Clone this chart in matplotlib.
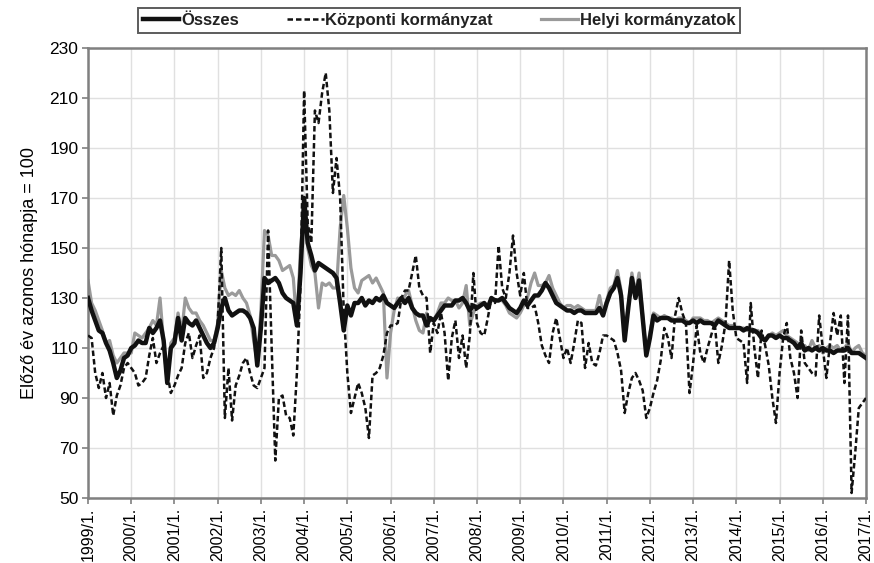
import matplotlib
matplotlib.use("Agg")
import matplotlib.pyplot as plt
import numpy as np

plt.rcParams['font.family'] = ['Liberation Sans', 'DejaVu Sans']

years = list(range(1999, 2018))
tick_labels = [f"{y}/1." for y in years]

# Monthly values, 1999/1 ... 2017/1
osszes = [
    130, 125, 121, 117, 116, 112, 109, 104, 98, 101, 106, 107,   # 1999
    110, 111, 113, 112, 112, 118, 116, 118, 121, 113, 96, 110,   # 2000
    112, 122, 113, 122, 120, 119, 121, 118, 115, 112, 110, 112,  # 2001
    118, 126, 130, 125, 123, 124, 125, 125, 124, 122, 118, 103,  # 2002
    118, 138, 136, 137, 138, 136, 132, 130, 129, 128, 119, 140,  # 2003
    170, 152, 147, 141, 144, 143, 142, 141, 140, 138, 128, 117,  # 2004
    127, 123, 128, 128, 130, 127, 129, 128, 130, 129, 131, 128,  # 2005
    127, 126, 128, 130, 128, 130, 126, 124, 123, 123, 119, 122,  # 2006
    121, 123, 125, 127, 127, 127, 129, 129, 130, 128, 125, 127,  # 2007
    126, 127, 128, 126, 130, 129, 129, 130, 128, 126, 125, 124,  # 2008
    126, 129, 127, 129, 131, 131, 133, 136, 134, 131, 128, 127,  # 2009
    126, 125, 125, 124, 125, 125, 124, 124, 124, 124, 126, 123,  # 2010
    128, 132, 134, 138, 131, 113, 126, 138, 130, 137, 122, 107,  # 2011
    114, 123, 121, 122, 122, 122, 121, 121, 121, 121, 120, 120,  # 2012
    121, 120, 121, 120, 120, 120, 119, 121, 120, 119, 118, 118,  # 2013
    118, 118, 117, 118, 117, 117, 116, 114, 113, 115, 115, 114,  # 2014
    115, 114, 114, 113, 112, 110, 112, 109, 110, 109, 110, 109,  # 2015
    110, 109, 109, 108, 109, 109, 109, 110, 108, 108, 108, 107,  # 2016
    106,                                                         # 2017/1
]

kozponti = [
    115, 114, 100, 94, 100, 90, 96, 83, 91, 95, 102, 104,        # 1999
    102, 100, 95, 96, 98, 107, 114, 104, 108, 111, 100, 92,      # 2000
    95, 99, 102, 112, 116, 106, 111, 115, 98, 100, 106, 110,     # 2001
    120, 150, 82, 102, 81, 95, 99, 104, 106, 100, 95, 94,        # 2002
    98, 102, 157, 110, 65, 90, 91, 83, 82, 75, 100, 135,         # 2003
    213, 160, 152, 205, 200, 212, 220, 205, 172, 186, 170, 125,  # 2004
    100, 84, 90, 96, 92, 86, 74, 99, 100, 102, 107, 116,         # 2005
    119, 119, 120, 130, 133, 133, 140, 147, 134, 131, 130, 108,  # 2006
    120, 116, 124, 116, 97, 114, 121, 106, 115, 102, 115, 140,   # 2007
    120, 116, 115, 122, 130, 128, 151, 134, 130, 140, 155, 140,  # 2008
    131, 140, 126, 126, 127, 120, 111, 107, 104, 116, 122, 114,  # 2009
    106, 110, 104, 112, 121, 120, 102, 112, 104, 103, 108, 115,  # 2010
    115, 114, 113, 108, 101, 84, 92, 98, 100, 97, 93, 82,        # 2011
    86, 92, 97, 105, 118, 114, 106, 123, 130, 124, 120, 92,      # 2012
    104, 119, 108, 104, 110, 115, 120, 104, 111, 120, 145, 125,  # 2013
    114, 113, 112, 96, 128, 110, 98, 117, 111, 103, 90, 80,      # 2014
    100, 114, 120, 106, 100, 90, 117, 104, 102, 100, 99, 123,    # 2015
    110, 98, 112, 124, 115, 123, 96, 123, 52, 68, 86, 88,        # 2016
    90,                                                          # 2017/1
]

helyi = [
    137, 128, 125, 121, 117, 112, 113, 107, 104, 106, 108, 108,  # 1999
    108, 116, 115, 114, 116, 118, 121, 119, 130, 112, 96, 112,   # 2000
    114, 124, 116, 130, 126, 124, 124, 121, 119, 116, 113, 113,  # 2001
    120, 141, 134, 131, 132, 131, 133, 130, 128, 123, 113, 104,  # 2002
    125, 157, 155, 147, 147, 145, 141, 142, 143, 138, 119, 150,  # 2003
    166, 150, 143, 140, 126, 136, 135, 136, 134, 134, 158, 171,  # 2004
    158, 142, 134, 132, 137, 138, 139, 136, 138, 135, 132, 98,   # 2005
    116, 125, 130, 128, 131, 133, 127, 121, 117, 116, 124, 121,  # 2006
    121, 124, 128, 128, 130, 129, 129, 126, 128, 135, 119, 124,  # 2007
    127, 128, 128, 127, 130, 129, 129, 129, 127, 124, 123, 122,  # 2008
    124, 127, 130, 136, 140, 135, 135, 136, 139, 134, 131, 128,  # 2009
    126, 127, 127, 126, 127, 126, 125, 125, 125, 125, 131, 124,  # 2010
    129, 134, 135, 141, 133, 114, 127, 140, 132, 140, 123, 108,  # 2011
    116, 124, 123, 122, 123, 122, 122, 121, 122, 122, 121, 120,  # 2012
    122, 122, 122, 121, 121, 120, 121, 122, 121, 120, 119, 119,  # 2013
    118, 118, 118, 117, 118, 117, 117, 115, 113, 115, 116, 115,  # 2014
    116, 117, 115, 114, 113, 112, 110, 111, 109, 113, 110, 111,  # 2015
    108, 110, 111, 110, 111, 109, 110, 112, 108, 110, 111, 108,  # 2016
    107,                                                         # 2017/1
]

series_names = ["Összes", "Központi kormányzat", "Helyi kormányzatok"]
y_ticks = list(range(50, 231, 20))
y_label = "Előző év azonos hónapja = 100"

n = len(osszes)
x = 1999 + np.arange(n) / 12.0

fig = plt.figure(figsize=(8.74, 5.63), dpi=100)
ax = fig.add_axes([88 / 874, 1 - 498 / 563, (866 - 88) / 874, (498 - 48) / 563])

ax.plot(x, helyi, color="#9a9a9a", lw=2.3, zorder=2, label=series_names[2])
ax.plot(x, osszes, color="#111111", lw=3.2, zorder=3, label=series_names[0])
ax.plot(x, kozponti, color="#111111", lw=1.8, ls=(0, (2.2, 1.2)), zorder=4, label=series_names[1])

ax.set_xlim(1999, 2017)
ax.set_ylim(50, 230)
ax.set_yticks(y_ticks)
ax.set_xticks(years)
ax.set_xticklabels(tick_labels, rotation=90, fontsize=11.5)
ax.tick_params(axis="y", labelsize=12.5, length=4, color="#808080", width=1.2, pad=3)
ax.tick_params(axis="x", length=4, color="#808080", width=1.2, pad=3)
ax.grid(True, color="#e0e0e0", lw=1.0)
ax.set_axisbelow(True)
for s in ax.spines.values():
    s.set_color("#808080")
    s.set_linewidth(1.8)
ax.set_ylabel(y_label, fontsize=13, labelpad=8)

handles, labels = ax.get_legend_handles_labels()
order = [1, 2, 0]
leg = fig.legend([handles[i] for i in order], [labels[i] for i in order],
                 loc="center", bbox_to_anchor=((133 + 745) / 2 / 874, 1 - 20.5 / 563),
                 ncol=3, frameon=True, fancybox=False, edgecolor="#333333",
                 prop={"size": 12, "weight": "bold"}, handlelength=2.2, handletextpad=0.1,
                 columnspacing=2.9, borderpad=0.3, borderaxespad=0)
leg.get_frame().set_linewidth(1.4)
leg._legend_box.sep = 0
for t in leg.get_texts():
    t.set_color("#222222")

fig.savefig("out.png", dpi=100)
